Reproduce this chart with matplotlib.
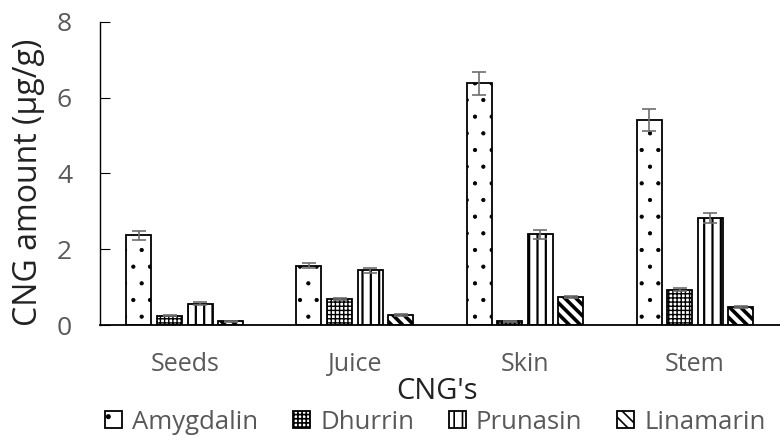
import matplotlib.pyplot as plt
import numpy as np

# CNG content per plant part
parts = ["Seeds", "Juice", "Skin", "Stem"]
compounds = ["Amygdalin", "Dhurrin", "Prunasin", "Linamarin"]
amygdalin = [2.37, 1.57, 6.38, 5.41]
dhurrin = [0.25, 0.68, 0.10, 0.93]
prunasin = [0.57, 1.45, 2.40, 2.83]
linamarin = [0.10, 0.27, 0.75, 0.47]
amygdalin_err = [0.12, 0.07, 0.30, 0.28]
dhurrin_err = [0.02, 0.03, 0.02, 0.04]
prunasin_err = [0.03, 0.07, 0.12, 0.14]
linamarin_err = [0.02, 0.02, 0.03, 0.03]

values = [amygdalin, dhurrin, prunasin, linamarin]
errors = [amygdalin_err, dhurrin_err, prunasin_err, linamarin_err]
hatches = ['.', '++++', '||', '\\\\\\']
hatch_lw = [0.6, 1.0, 1.6, 2.6]

plt.rcParams['font.family'] = ['Open Sans', 'DejaVu Sans']
plt.rcParams['hatch.linewidth'] = 1.2
grey = '#595959'

fig = plt.figure(figsize=(7.8, 4.37), dpi=100)
ax = fig.add_axes([0.128, 0.256, 0.872, 0.694])

x = np.arange(len(parts))
offsets = [-0.27, -0.09, 0.09, 0.27]
for vals, errs, off, h, hlw, name in zip(values, errors, offsets, hatches, hatch_lw, compounds):
    bars = ax.bar(x + off, vals, width=0.147, color='white', edgecolor='black',
                  linewidth=1.3, hatch=h, label=name,
                  yerr=errs, error_kw=dict(ecolor='#6e6e6e', capsize=5, elinewidth=1.2, capthick=1.2))
    for p in bars.patches:
        if hasattr(p, 'set_hatch_linewidth'):
            p.set_hatch_linewidth(hlw)

ax.set_xlim(-0.5, 3.5)
ax.set_ylim(0, 8)
ax.set_yticks([0, 2, 4, 6, 8])
ax.set_xticks(x)
ax.set_xticklabels(parts, fontsize=18, color=grey)
ax.tick_params(axis='y', direction='in', length=7, labelsize=19, labelcolor=grey, pad=20)
ax.tick_params(axis='x', length=0, pad=19)
ax.spines['top'].set_visible(False)
ax.spines['right'].set_visible(False)
ax.spines['left'].set_linewidth(1.0)
ax.spines['bottom'].set_linewidth(1.3)

ax.set_ylabel("CNG amount (\u00b5g/g)", fontsize=23, color='#222222')
ax.yaxis.set_label_coords(-0.081, 0.472)
ax.set_xlabel("CNG's", fontsize=21, color='#222222')
ax.xaxis.set_label_coords(0.496, -0.172)

leg = fig.legend(loc='center', bbox_to_anchor=(0.558, 0.034), ncol=4, frameon=False,
                 fontsize=18.5, handlelength=0.66, handleheight=0.66, handletextpad=0.4,
                 columnspacing=1.35, borderpad=0, borderaxespad=0)
for t in leg.get_texts():
    t.set_color(grey)

fig.savefig('out.png', dpi=100)
